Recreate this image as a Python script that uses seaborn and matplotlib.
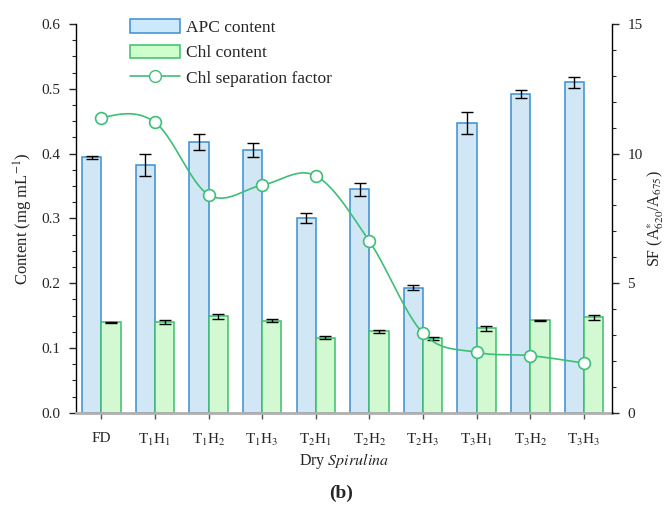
import numpy as np
import pandas as pd
import matplotlib
matplotlib.use("Agg")
import matplotlib.pyplot as plt
import seaborn as sns
from matplotlib.patches import Patch
from matplotlib.lines import Line2D
from matplotlib.ticker import MultipleLocator

# ---- data ----
categories = ["FD", "T1H1", "T1H2", "T1H3", "T2H1", "T2H2", "T2H3", "T3H1", "T3H2", "T3H3"]
tick_labels = ["FD", r"T$_1$H$_1$", r"T$_1$H$_2$", r"T$_1$H$_3$", r"T$_2$H$_1$",
               r"T$_2$H$_2$", r"T$_2$H$_3$", r"T$_3$H$_1$", r"T$_3$H$_2$", r"T$_3$H$_3$"]
apc = [0.394, 0.382, 0.418, 0.405, 0.301, 0.345, 0.193, 0.447, 0.492, 0.510]
apc_err = [0.003, 0.017, 0.012, 0.011, 0.0075, 0.0098, 0.0034, 0.0175, 0.0057, 0.0088]
chl = [0.1395, 0.140, 0.149, 0.142, 0.116, 0.1256, 0.115, 0.130, 0.1426, 0.147]
chl_err = [0.001, 0.0034, 0.0036, 0.0026, 0.0026, 0.0026, 0.0026, 0.004, 0.001, 0.004]
sf = [11.37, 11.21, 8.41, 8.78, 9.14, 6.61, 3.06, 2.33, 2.20, 1.91]

# ---- style ----
sns.set_style("ticks")
plt.rcParams["font.family"] = ["Liberation Serif", "DejaVu Serif"]
plt.rcParams["mathtext.fontset"] = "stix"

APC_FACE, APC_EDGE = "#cce8fb", "#3a8fd2"
CHL_FACE, CHL_EDGE = "#ccffcc", "#3cbf6c"
LINE_C = "#3dbf78"

df = pd.DataFrame({
    "cat": categories * 2,
    "val": apc + chl,
    "series": ["APC content"] * len(categories) + ["Chl content"] * len(categories),
})

fig = plt.figure(figsize=(6.72, 5.11), dpi=100)
ax = fig.add_axes([76 / 672, 1 - 412.7 / 511, (612 - 76) / 672, (412.7 - 24) / 511])

sns.barplot(data=df, x="cat", y="val", hue="series", order=categories,
            hue_order=["APC content", "Chl content"],
            palette=[APC_FACE, CHL_FACE], width=0.72, dodge=True, gap=0,
            errorbar=None, legend=False, ax=ax, linewidth=1.1)

n = len(categories)
patches = ax.patches[:2 * n]
for i, p in enumerate(patches):
    p.set_edgecolor(APC_EDGE if i < n else CHL_EDGE)

apc_x = [p.get_x() + p.get_width() / 2 for p in patches[:n]]
chl_x = [p.get_x() + p.get_width() / 2 for p in patches[n:2 * n]]
ax.errorbar(apc_x, apc, yerr=apc_err, fmt="none", ecolor="black", elinewidth=1,
            capsize=4.5, capthick=1, zorder=5)
ax.errorbar(chl_x, chl, yerr=chl_err, fmt="none", ecolor="black", elinewidth=1,
            capsize=4.5, capthick=1, zorder=5)

ax.set_xlim(-0.47, 9.52)
ax.set_ylim(0, 0.6)
ax.yaxis.set_major_locator(MultipleLocator(0.1))
ax.yaxis.set_minor_locator(MultipleLocator(0.025))
ax.yaxis.set_major_formatter(matplotlib.ticker.FormatStrFormatter("%.1f"))
ax.set_xticks(range(n))
ax.set_xticklabels(tick_labels, fontsize=11)
ax.tick_params(axis="y", which="major", length=5, width=1, labelsize=11, direction="out", pad=6)
ax.tick_params(axis="y", which="minor", length=3, width=0.8, direction="out")
ax.tick_params(axis="x", length=4, width=1, color="#555555", pad=10)
ax.set_ylabel(r"Content (mg mL$^{-1}$)", fontsize=12, labelpad=5)
ax.set_xlabel(r"Dry $\mathit{Spirulina}$", fontsize=11.5, labelpad=2)
for s in ["top", "right"]:
    ax.spines[s].set_visible(False)
ax.spines["left"].set_color("black")
ax.spines["left"].set_linewidth(1)
ax.spines["bottom"].set_color("#b0b0b0")
ax.spines["bottom"].set_linewidth(2)

# ---- secondary axis: separation factor ----
ax2 = ax.twinx()
xs = np.arange(n, dtype=float)
ys = np.array(sf)
# Catmull-Rom style smoothing through the data points (drawing only)
m = np.zeros(n)
m[1:-1] = (ys[2:] - ys[:-2]) / 2
m[0] = (3 * (ys[1] - ys[0]) - m[1]) / 2
m[-1] = (3 * (ys[-1] - ys[-2]) - m[-2]) / 2
xf, yf = [], []
for i in range(n - 1):
    t = np.linspace(0, 1, 40, endpoint=(i == n - 2))
    h00 = 2 * t**3 - 3 * t**2 + 1
    h10 = t**3 - 2 * t**2 + t
    h01 = -2 * t**3 + 3 * t**2
    h11 = t**3 - t**2
    xf.extend(xs[i] + t)
    yf.extend(h00 * ys[i] + h10 * m[i] + h01 * ys[i + 1] + h11 * m[i + 1])
sns.lineplot(x=xf, y=yf, ax=ax2, color=LINE_C, linewidth=1.2, zorder=6)
ax2.plot(xs, ys, linestyle="none", marker="o", markersize=8.5, markerfacecolor="white",
         markeredgecolor=LINE_C, markeredgewidth=1.2, zorder=7)
ax2.set_ylim(0, 15)
ax2.yaxis.set_major_locator(MultipleLocator(5))
ax2.yaxis.set_minor_locator(MultipleLocator(1))
ax2.tick_params(axis="y", which="major", length=5, width=1, labelsize=11, direction="out", pad=6)
ax2.tick_params(axis="y", which="minor", length=3, width=0.8, direction="out")
ax2.set_ylabel(r"SF (A$^{*}_{620}$/A$_{675}$)", fontsize=11.5, labelpad=2)
for s in ["top", "left", "bottom"]:
    ax2.spines[s].set_visible(False)
ax2.spines["right"].set_color("black")
ax2.spines["right"].set_linewidth(1)
ax2.set_xlim(-0.47, 9.52)

handles = [
    Patch(facecolor=APC_FACE, edgecolor=APC_EDGE, linewidth=1.1),
    Patch(facecolor=CHL_FACE, edgecolor=CHL_EDGE, linewidth=1.1),
    Line2D([0], [0], color=LINE_C, linewidth=1.2, marker="o", markersize=8.5,
           markerfacecolor="white", markeredgecolor=LINE_C),
]
ax2.legend(handles, ["APC content", "Chl content", "Chl separation factor"],
           loc="upper left", bbox_to_anchor=(0.1, 1.012), frameon=False, fontsize=12.5,
           handlelength=2.9, handleheight=0.8, handletextpad=0.35, labelspacing=0.5,
           borderpad=0, borderaxespad=0)

fig.text(0.507, 0.035, "(b)", fontsize=14, fontweight="bold", ha="center", va="center")

fig.savefig("out.png", dpi=100)
